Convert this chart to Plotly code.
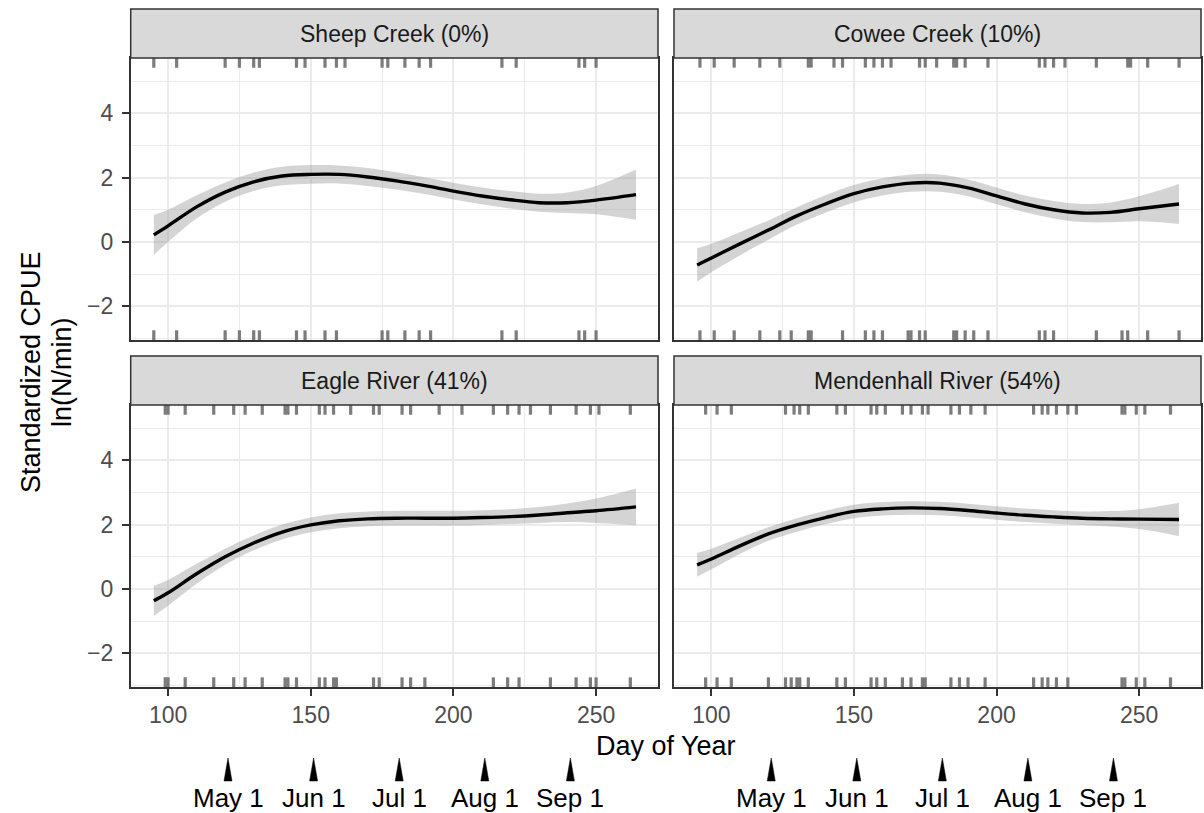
import plotly.graph_objects as go

# ---- data ---------------------------------------------------------------
days = [95, 100, 110, 120, 130, 140, 150, 160, 170, 180, 190, 200, 210, 220, 230, 240, 250, 264]

sites = ["Sheep Creek (0%)", "Cowee Creek (10%)", "Eagle River (41%)", "Mendenhall River (54%)"]

sheep_fit = [0.22, 0.50, 1.09, 1.55, 1.87, 2.05, 2.10, 2.10, 2.02, 1.90, 1.75, 1.58, 1.43, 1.31, 1.22, 1.22, 1.30, 1.47]
sheep_se = [0.62, 0.50, 0.36, 0.30, 0.29, 0.29, 0.29, 0.28, 0.28, 0.27, 0.26, 0.26, 0.26, 0.27, 0.28, 0.32, 0.44, 0.78]

cowee_fit = [-0.72, -0.50, -0.06, 0.37, 0.81, 1.18, 1.50, 1.71, 1.83, 1.83, 1.68, 1.43, 1.18, 1.00, 0.90, 0.92, 1.03, 1.18]
cowee_se = [0.52, 0.44, 0.36, 0.30, 0.27, 0.27, 0.27, 0.27, 0.27, 0.27, 0.26, 0.26, 0.26, 0.27, 0.28, 0.31, 0.39, 0.62]

eagle_fit = [-0.37, -0.12, 0.47, 1.00, 1.43, 1.77, 1.99, 2.12, 2.18, 2.20, 2.20, 2.20, 2.22, 2.25, 2.30, 2.37, 2.43, 2.55]
eagle_se = [0.47, 0.40, 0.31, 0.25, 0.23, 0.23, 0.23, 0.23, 0.23, 0.23, 0.23, 0.23, 0.23, 0.23, 0.25, 0.29, 0.38, 0.57]

mend_fit = [0.75, 0.93, 1.34, 1.71, 1.99, 2.22, 2.41, 2.49, 2.52, 2.50, 2.44, 2.36, 2.29, 2.24, 2.20, 2.18, 2.17, 2.16]
mend_se = [0.37, 0.32, 0.25, 0.21, 0.21, 0.21, 0.21, 0.21, 0.21, 0.21, 0.21, 0.21, 0.21, 0.21, 0.21, 0.24, 0.31, 0.52]

# sampling days shown as rugs (top and bottom edges of each panel)
sheep_top = [95, 103, 120, 125, 130, 132, 145, 148, 155, 159, 162, 175, 177, 183, 188, 192, 217, 222, 244, 246, 250]
sheep_bot = [95, 103, 120, 125, 130, 132, 145, 148, 155, 159, 175, 177, 183, 188, 192, 217, 222, 244, 246, 250]
cowee_top = [96, 101, 108, 117, 124, 134, 135, 143, 146, 154, 157, 160, 163, 173, 175, 179, 185, 186, 189, 197,
             215, 217, 220, 224, 235, 246, 247, 253, 264]
cowee_bot = [96, 101, 108, 117, 124, 128, 134, 135, 146, 154, 157, 160, 169, 170, 173, 175, 185, 186, 189, 192,
             197, 215, 217, 220, 235, 244, 246, 253, 264]
eagle_top = [99, 100, 106, 116, 123, 127, 133, 141, 142, 145, 153, 155, 158, 164, 172, 174, 182, 185, 195, 203,
             214, 219, 223, 227, 234, 243, 248, 251, 262]
eagle_bot = [99, 100, 106, 116, 123, 127, 133, 141, 142, 145, 153, 155, 158, 159, 172, 174, 182, 185, 190, 214,
             219, 223, 234, 243, 248, 250, 262]
mend_top = [98, 102, 107, 126, 129, 131, 134, 144, 147, 156, 158, 161, 167, 170, 174, 176, 184, 187, 191, 196,
            213, 216, 218, 221, 225, 228, 244, 245, 249, 252, 261]
mend_bot = [98, 102, 107, 120, 126, 128, 130, 131, 134, 144, 147, 156, 158, 161, 167, 170, 174, 175, 184, 187,
            190, 196, 213, 216, 218, 221, 225, 244, 245, 249, 252, 261]

# month markers below the x axis
month_days = [121, 151, 181, 211, 241]
month_labels = ["May 1", "Jun 1", "Jul 1", "Aug 1", "Sep 1"]

x_ticks = [100, 150, 200, 250]
y_ticks = [-2, 0, 2, 4]

# ---- layout constants ---------------------------------------------------
W, H = 1204, 813
X_RANGE = [86.9, 271.7]
Y_RANGE = [-3.05, 5.72]
RUG_LEN = 0.30
FONT = "Liberation Sans, Arial, Helvetica, sans-serif"

def px_x(p):
    return p / W

def px_y(p):
    return 1 - p / H

col_dom = [[px_x(130.7), px_x(658)], [px_x(674), px_x(1201)]]
row_pix = [(58, 340), (405, 687)]          # plot area (top, bottom) in pixels
strip_h = 49

fits = [sheep_fit, cowee_fit, eagle_fit, mend_fit]
ses = [sheep_se, cowee_se, eagle_se, mend_se]
rug_tops = [sheep_top, cowee_top, eagle_top, mend_top]
rug_bots = [sheep_bot, cowee_bot, eagle_bot, mend_bot]

fig = go.Figure()
shapes = []
annotations = []

for i in range(4):
    r, c = divmod(i, 2)
    sfx = "" if i == 0 else str(i + 1)
    xa, ya = "x" + sfx, "y" + sfx
    fit, se = fits[i], ses[i]
    upper = [f + s for f, s in zip(fit, se)]
    lower = [f - s for f, s in zip(fit, se)]

    # confidence band
    fig.add_trace(go.Scatter(x=days, y=upper, xaxis=xa, yaxis=ya, mode="lines",
                             line=dict(width=0, shape="spline", smoothing=1.0),
                             hoverinfo="skip", showlegend=False))
    fig.add_trace(go.Scatter(x=days, y=lower, xaxis=xa, yaxis=ya, mode="lines",
                             line=dict(width=0, shape="spline", smoothing=1.0),
                             fill="tonexty", fillcolor="rgba(153,153,153,0.42)",
                             hoverinfo="skip", showlegend=False))
    # fitted smooth
    fig.add_trace(go.Scatter(x=days, y=fit, xaxis=xa, yaxis=ya, mode="lines",
                             line=dict(color="black", width=3.4, shape="spline", smoothing=1.0),
                             showlegend=False))

    # rugs
    rx, ry = [], []
    for d in rug_tops[i]:
        rx += [d, d, None]
        ry += [Y_RANGE[1], Y_RANGE[1] - RUG_LEN, None]
    for d in rug_bots[i]:
        rx += [d, d, None]
        ry += [Y_RANGE[0], Y_RANGE[0] + RUG_LEN, None]
    fig.add_trace(go.Scatter(x=rx, y=ry, xaxis=xa, yaxis=ya, mode="lines",
                             line=dict(color="rgba(110,110,110,0.9)", width=3.2),
                             hoverinfo="skip", showlegend=False, cliponaxis=True))

    top_px, bot_px = row_pix[r]
    xdom = col_dom[c]
    ydom = [px_y(bot_px), px_y(top_px)]

    grid = dict(showgrid=True, gridcolor="#EBEBEB", gridwidth=1.8, zeroline=False,
                showline=True, mirror=True, linecolor="#333333", linewidth=1.5)
    minor = dict(showgrid=True, gridcolor="#EBEBEB", gridwidth=1)

    show_x = (r == 1)
    show_y = (c == 0)
    fig.update_layout(**{
        ("xaxis" + sfx): dict(domain=xdom, range=X_RANGE, anchor=ya, tickvals=x_ticks,
                              showticklabels=show_x, ticks="outside" if show_x else "",
                              ticklen=7, tickwidth=1.5, tickcolor="#333333",
                              tickfont=dict(family=FONT, size=23, color="#4D4D4D"),
                              minor=dict(tickvals=[75, 125, 175, 225, 275], **minor), **grid),
        ("yaxis" + sfx): dict(domain=ydom, range=Y_RANGE, anchor=xa, tickvals=y_ticks,
                              showticklabels=show_y, ticks="outside" if show_y else "",
                              ticklen=7, tickwidth=1.5, tickcolor="#333333",
                              ticklabelstandoff=4,
                              tickfont=dict(family=FONT, size=23, color="#4D4D4D"),
                              minor=dict(tickvals=[-3, -1, 1, 3, 5], **minor), **grid),
    })

    # facet strip
    shapes.append(dict(type="rect", xref="paper", yref="paper",
                       x0=xdom[0], x1=xdom[1], y0=px_y(top_px), y1=px_y(top_px - strip_h),
                       fillcolor="#D9D9D9", line=dict(color="#333333", width=1.5), layer="above"))
    annotations.append(dict(text=sites[i], xref="paper", yref="paper",
                            x=(xdom[0] + xdom[1]) / 2, y=px_y(top_px - strip_h / 2),
                            showarrow=False, xanchor="center", yanchor="middle",
                            font=dict(family=FONT, size=23, color="#1A1A1A")))

    # month markers under the bottom panels
    if r == 1:
        for d, lab in zip(month_days, month_labels):
            hw = 1.4
            shapes.append(dict(type="path", xref=xa, yref="paper",
                               path=f"M {d - hw},{px_y(781)} L {d + hw},{px_y(781)} L {d},{px_y(758)} Z",
                               fillcolor="black", line=dict(color="black", width=0.5)))
            annotations.append(dict(text=lab, xref=xa, yref="paper", x=d, y=px_y(798),
                                    showarrow=False, xanchor="center", yanchor="middle",
                                    font=dict(family=FONT, size=26, color="black")))

# axis titles
annotations.append(dict(text="Day of Year", xref="paper", yref="paper",
                        x=(col_dom[0][0] + col_dom[1][1]) / 2, y=px_y(746),
                        showarrow=False, xanchor="center", yanchor="middle",
                        font=dict(family=FONT, size=27, color="black")))
annotations.append(dict(text="Standardized CPUE", xref="paper", yref="paper",
                        x=px_x(31), y=px_y(372), textangle=-90,
                        showarrow=False, xanchor="center", yanchor="middle",
                        font=dict(family=FONT, size=27, color="black")))
annotations.append(dict(text="ln(N/min)", xref="paper", yref="paper",
                        x=px_x(62), y=px_y(372), textangle=-90,
                        showarrow=False, xanchor="center", yanchor="middle",
                        font=dict(family=FONT, size=27, color="black")))

fig.update_layout(width=W, height=H, autosize=False,
                  margin=dict(l=0, r=0, t=0, b=0, pad=0),
                  paper_bgcolor="white", plot_bgcolor="white",
                  shapes=shapes, annotations=annotations, showlegend=False)

fig.write_html("out.html")
